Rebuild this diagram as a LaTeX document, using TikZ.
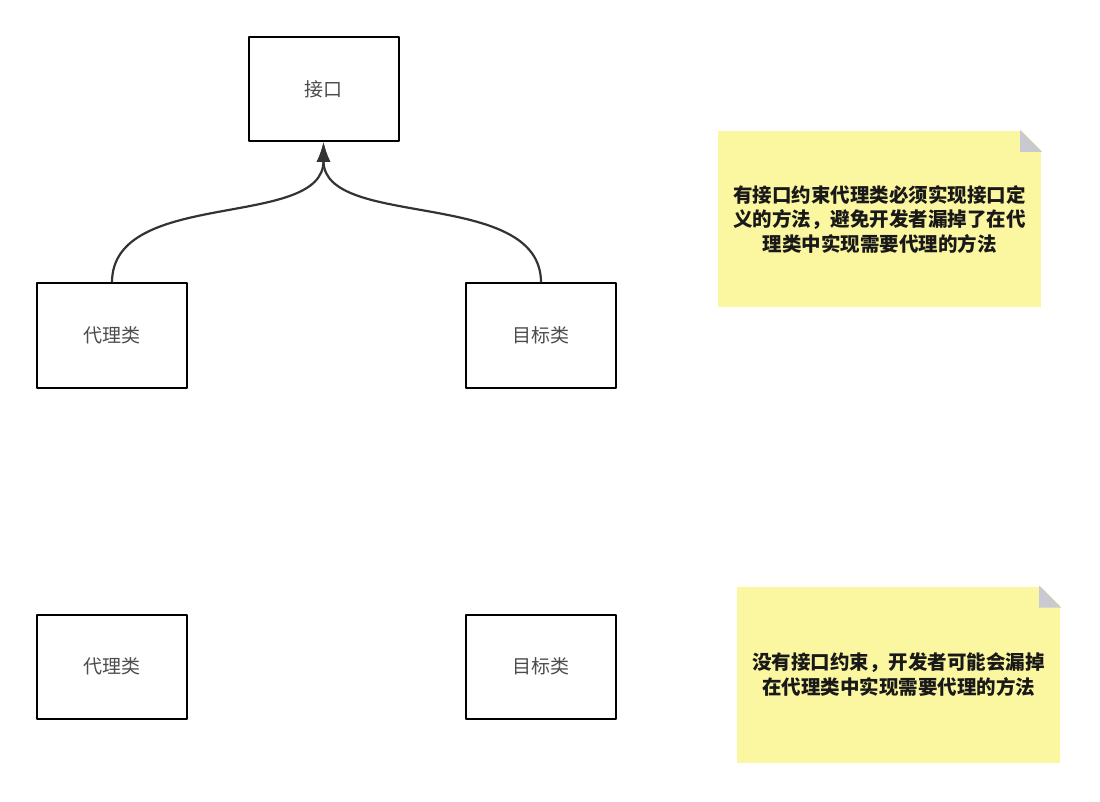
\documentclass[tikz,border=0pt]{standalone}
\usepackage{fontspec}
\setmainfont{Noto Sans CJK SC}
\usetikzlibrary{arrows.meta,calc}

\begin{document}
\begin{tikzpicture}[x=1pt, y=-1pt, line width=2pt, line join=round,
  box/.style={draw=black, fill=white, minimum width=150, minimum height=104, inner sep=0pt,
    text=black!70, font=\fontsize{19}{24}\selectfont},
  note/.style={fill=noteyellow, minimum width=323, minimum height=176, inner sep=0pt, align=center,
    text=black!90, font=\bfseries\fontsize{19.5}{24.5}\selectfont},
  link/.style={draw=black!80, line width=2.2pt, -{Latex[length=20pt,width=14pt]}}]

  \definecolor{noteyellow}{HTML}{FBF6A0}
  \definecolor{foldgray}{HTML}{C9C9D1}

  %% ════ 方框 ════
  \node[box] (jiekou)   at (323.5,89.0)  {接口};
  \node[box] (daili1)   at (112.0,335.5) {代理类};
  \node[box] (mubiao1)  at (541.0,335.5) {目标类};
  \node[box] (daili2)   at (112.0,666.5) {代理类};
  \node[box] (mubiao2)  at (541.0,666.5) {目标类};

  %% ════ 曲线连线 ════
  \draw[link] (daili1.north) .. controls ([yshift=95pt]daili1.north) and ([yshift=-88pt]jiekou.south) .. (jiekou.south);
  \draw[link] (mubiao1.north) .. controls ([yshift=95pt]mubiao1.north) and ([yshift=-88pt]jiekou.south) .. (jiekou.south);

  %% ════ 便签 ════
  \node[note] (note1) at (879.5,219.0) {有接口约束代理类必须实现接口定\\义的方法，避免开发者漏掉了在代\\理类中实现需要代理的方法};
  \node[note] (note2) at (898.5,674.5) {没有接口约束，开发者可能会漏掉\\在代理类中实现需要代理的方法};

  % 折角：先用白色切掉右上角，再补灰色三角
  \foreach \n in {note1,note2} {
    \fill[white] ($(\n.north east)+(-22,-1)$) -- ($(\n.north east)+(1,-1)$) -- ($(\n.north east)+(1,22)$) -- cycle;
    \fill[foldgray] ($(\n.north east)+(-22,0)$) -- ($(\n.north east)+(-22,22)$) -- ($(\n.north east)+(0,22)$) -- cycle;
  }

  \pgfresetboundingbox
  \path[use as bounding box] (0,0) rectangle (1100,802);
\end{tikzpicture}
\end{document}
